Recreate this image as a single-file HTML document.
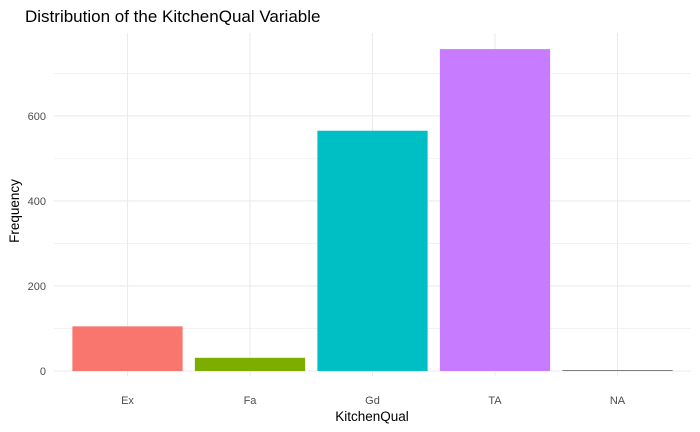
<!DOCTYPE html>
<html><head><meta charset="utf-8"><style>
body{margin:0;background:#fff;}
svg{display:block;font-family:"Liberation Sans",Arial,sans-serif;}
</style></head><body>
<svg id="chart" width="700" height="432">
<text x="25" y="22" font-size="17" fill="#000">Distribution of the KitchenQual Variable</text>
<g id="grid"></g>
<g id="bars"></g>
<g id="axes"></g>
<text x="372" y="421" font-size="13.5" text-anchor="middle" fill="#000">KitchenQual</text>
<text transform="translate(19,211) rotate(-90)" font-size="13.5" text-anchor="middle" fill="#000">Frequency</text>
</svg>
<script>
const categories=["Ex","Fa","Gd","TA","NA"];
const counts=[105,31,565,757,1];
const colors=["#F8766D","#7CAE00","#00BFC4","#C77CFF","#7F7F7F"];
const yTicks=[0,200,400,600];
const yMinor=[100,300,500,700];
const NS="http://www.w3.org/2000/svg";
const leftX=54,rightX=691,y0=371,topY=33;
const maxV=Math.max(...counts)*1.05;
const y=v=>y0-(y0-topY)*v/maxV;
const band=(rightX-leftX)/(categories.length+0.2);
const x=i=>leftX+band*(0.6+i);
function mk(t,a,p){const e=document.createElementNS(NS,t);for(const k in a)e.setAttribute(k,a[k]);p.appendChild(e);return e;}
const g=document.getElementById('grid'),b=document.getElementById('bars'),ax=document.getElementById('axes');
yMinor.forEach(v=>{const l=mk('line',{x1:leftX,x2:rightX,y1:y(v),y2:y(v),stroke:'#EBEBEB','stroke-width':0.6},g);

});
yTicks.forEach(v=>{const l=mk('line',{x1:leftX,x2:rightX,y1:y(v),y2:y(v),stroke:'#EBEBEB','stroke-width':1.1},g);


const t=mk('text',{x:leftX-8,y:y(v)+4,'font-size':11,'text-anchor':'end',fill:'#4D4D4D'},ax);t.textContent=v;

});
categories.forEach((c,i)=>{const l=mk('line',{x1:x(i),x2:x(i),y1:topY,y2:y0+5,stroke:'#EBEBEB','stroke-width':1.1},g);


const w=band*0.9;const h=Math.max(y0-y(counts[i]),1);
const r=mk('rect',{x:x(i)-w/2,y:y0-h,width:w,height:h,fill:colors[i]},b);


const t=mk('text',{x:x(i),y:y0+33,'font-size':11,'text-anchor':'middle',fill:'#4D4D4D'},ax);t.textContent=c;

});
</script>
</body></html>
